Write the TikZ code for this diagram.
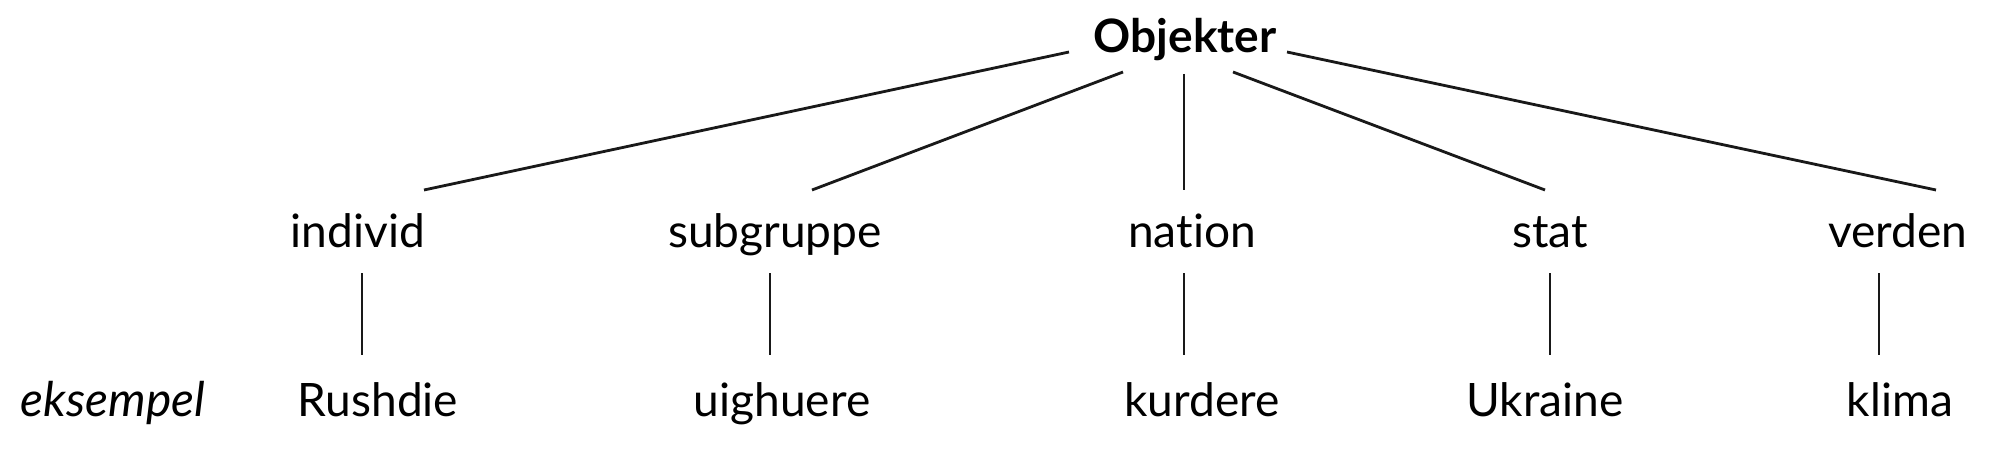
\documentclass[tikz,border=0pt]{standalone}
\usepackage{fontspec}
\setmainfont[Ligatures={NoCommon,NoContextual}]{Lato}
\usetikzlibrary{calc}
\begin{document}
\begin{tikzpicture}[x=0.01cm,y=-0.01cm,
  lbl/.style={anchor=base,inner sep=0pt,font=\fontsize{13.1}{15}\selectfont},
  toplbl/.style={lbl,font=\fontsize{13.1}{15}\selectfont\bfseries},
  edge/.style={line width=0.8pt,black!90}]
\useasboundingbox (0,0) rectangle (2000,473);
% root
\node[toplbl] (obj) at (1185,53) {Objekter};
% categories
\node[lbl] (ind) at (358,248) {individ};
\node[lbl] (sub) at (775,248) {subgruppe};
\node[lbl] (nat) at (1192,248) {nation};
\node[lbl] (sta) at (1550,248) {stat};
\node[lbl] (ver) at (1898,248) {verden};
% examples
\node[lbl,font=\fontsize{13.6}{15}\selectfont\itshape] (eks) at (113,416) {eksempel};
\node[lbl] (rus) at (378,416) {Rushdie};
\node[lbl] (uig) at (782,416) {uighuere};
\node[lbl] (kur) at (1202,416) {kurdere};
\node[lbl] (ukr) at (1545,416) {Ukraine};
\node[lbl] (kli) at (1900,416) {klima};
% root to categories
\draw[edge] ($(obj.base)+(-116,-1)$) -- ($(ind.base)+(66,-58)$);
\draw[edge] ($(obj.base)+(-62,19)$) -- ($(sub.base)+(37,-58)$);
\draw[edge] ($(obj.base)+(-1,21)$) -- ($(nat.base)+(-8,-58)$);
\draw[edge] ($(obj.base)+(48,19)$) -- ($(sta.base)+(-5,-58)$);
\draw[edge] ($(obj.base)+(102,-1)$) -- ($(ver.base)+(38,-58)$);
% categories to examples
\draw[edge] ($(ind.base)+(4,25)$) -- ($(rus.base)+(-16,-61)$);
\draw[edge] ($(sub.base)+(-5,25)$) -- ($(uig.base)+(-12,-61)$);
\draw[edge] ($(nat.base)+(-8,25)$) -- ($(kur.base)+(-18,-61)$);
\draw[edge] ($(sta.base)+(0,25)$) -- ($(ukr.base)+(5,-61)$);
\draw[edge] ($(ver.base)+(-19,25)$) -- ($(kli.base)+(-21,-61)$);
\end{tikzpicture}
\end{document}
